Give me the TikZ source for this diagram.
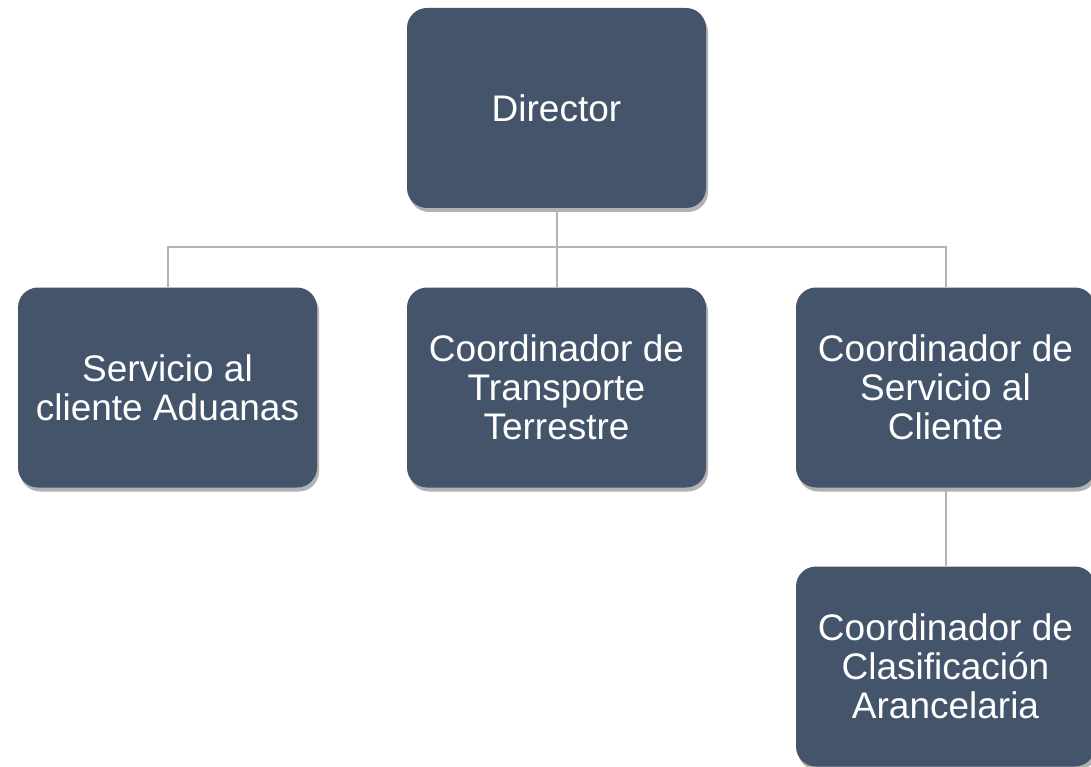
\documentclass[tikz,border=0pt]{standalone}
\usepackage{fontspec}
\setmainfont{Liberation Sans}
\usetikzlibrary{shadows}
\definecolor{boxfill}{HTML}{44546A}
\definecolor{linegray}{HTML}{B4B4B4}
\tikzset{
  orgbox/.style={draw=none, fill=boxfill, rounded corners=20pt,
    minimum width=299pt, minimum height=200pt, text=white, align=center,
    inner sep=0pt,
    font=\fontsize{37}{39}\selectfont,
    drop shadow={shadow xshift=2pt, shadow yshift=-4pt, fill=black, opacity=0.3}},
  conn/.style={draw=linegray, line width=2pt}
}
\begin{document}
\begin{tikzpicture}[x=1pt,y=-1pt]
\useasboundingbox[fill=white] (0,0) rectangle (1091,767);
\node[orgbox] (dir) at (556.5,108) {Director};
\node[orgbox] (a) at (167.5,387.5) {Servicio al\\cliente Aduanas};
\node[orgbox] (b) at (556.5,387.5) {Coordinador de\\Transporte\\Terrestre};
\node[orgbox] (c) at (945.5,387.5) {Coordinador de\\Servicio al\\Cliente};
\node[orgbox] (d) at (945.5,666.5) {Coordinador de\\Clasificación\\Arancelaria};
\coordinate (bus) at (556.5,247);
\draw[conn] (dir.south) -- (bus);
\draw[conn] (a.north) |- (bus);
\draw[conn] (c.north) |- (bus);
\draw[conn] (b.north) -- (bus);
\draw[conn] (c.south) -- (d.north);
\end{tikzpicture}
\end{document}
